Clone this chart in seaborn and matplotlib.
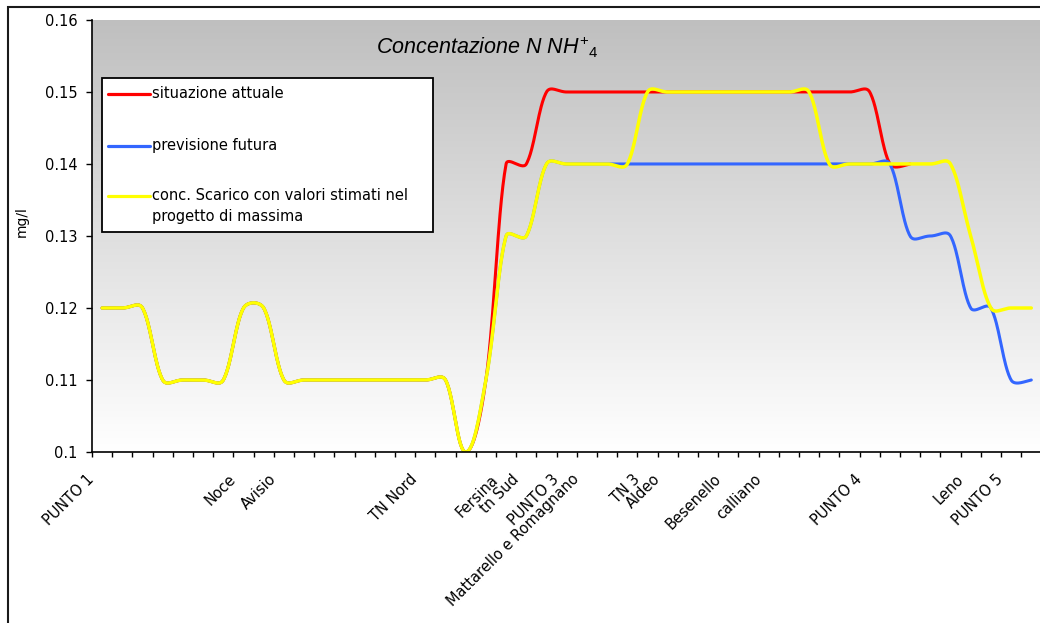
import numpy as np
import pandas as pd
import matplotlib
matplotlib.use("Agg")
import matplotlib.pyplot as plt
from matplotlib.transforms import ScaledTranslation
from matplotlib.patches import Rectangle
from matplotlib.lines import Line2D
import seaborn as sns

# ---- data -------------------------------------------------------------
n_points = 47
label_positions = {
    0: "PUNTO 1", 7: "Noce", 9: "Avisio", 16: "TN Nord", 20: "Fersina",
    21: "tn Sud", 23: "PUNTO 3", 24: "Mattarello e Romagnano", 27: "TN 3",
    28: "Aldeo", 31: "Besenello", 33: "calliano", 38: "PUNTO 4",
    43: "Leno", 45: "PUNTO 5",
}
categories = [label_positions.get(i, "") for i in range(n_points)]

nan = np.nan
situazione_attuale = [
    0.12, 0.12, 0.12, 0.11, 0.11, 0.11, 0.11, 0.12, 0.12, 0.11,
    0.11, 0.11, 0.11, 0.11, 0.11, 0.11, 0.11, 0.11, 0.10, 0.11,
    0.14, 0.14, 0.15, 0.15, 0.15, 0.15, 0.15, 0.15, 0.15, 0.15,
    0.15, 0.15, 0.15, 0.15, 0.15, 0.15, 0.15, 0.15, 0.15, 0.14,
    0.14, nan, nan, nan, nan, nan, nan,
]
previsione_futura = [
    0.12, 0.12, 0.12, 0.11, 0.11, 0.11, 0.11, 0.12, 0.12, 0.11,
    0.11, 0.11, 0.11, 0.11, 0.11, 0.11, 0.11, 0.11, 0.10, 0.11,
    0.13, 0.13, 0.14, 0.14, 0.14, 0.14, 0.14, 0.14, 0.14, 0.14,
    0.14, 0.14, 0.14, 0.14, 0.14, 0.14, 0.14, 0.14, 0.14, 0.14,
    0.13, 0.13, 0.13, 0.12, 0.12, 0.11, 0.11,
]
conc_scarico = [
    0.12, 0.12, 0.12, 0.11, 0.11, 0.11, 0.11, 0.12, 0.12, 0.11,
    0.11, 0.11, 0.11, 0.11, 0.11, 0.11, 0.11, 0.11, 0.10, 0.11,
    0.13, 0.13, 0.14, 0.14, 0.14, 0.14, 0.14, 0.15, 0.15, 0.15,
    0.15, 0.15, 0.15, 0.15, 0.15, 0.15, 0.14, 0.14, 0.14, 0.14,
    0.14, 0.14, 0.14, 0.13, 0.12, 0.12, 0.12,
]

series_names = [
    "situazione attuale",
    "previsione futura",
    "conc. Scarico con valori stimati nel\nprogetto di massima",
]
series_values = [situazione_attuale, previsione_futura, conc_scarico]
series_colors = ["#FF0000", "#3366FF", "#FFFF00"]

y_ticks = [0.10, 0.11, 0.12, 0.13, 0.14, 0.15, 0.16]
y_tick_labels = ["0.1", "0.11", "0.12", "0.13", "0.14", "0.15", "0.16"]

# on-screen size of one category step and of one mg/l unit (pixels)
PX_X, PX_Y = 20.2, 7200.0
HANDLE = 0.45      # handle length factor
MAX_REACH = 0.42   # handles never reach further than this share of a step


def smooth_curve(xs, ys, steps=30):
    """Smoothed line: cubic Bezier pieces whose handles follow the
    neighbouring points, scaled by the on-screen chord lengths."""
    pts = np.array([(x * PX_X, y * PX_Y) for x, y in zip(xs, ys)
                    if not np.isnan(y)], dtype=float)
    n = len(pts)
    chords = np.hypot(*np.diff(pts, axis=0).T)
    h_out = np.zeros_like(pts)
    h_in = np.zeros_like(pts)
    for i in range(n):
        if i == 0:
            h_out[i] = (pts[1] - pts[0]) / 6.0
        elif i == n - 1:
            h_in[i] = (pts[i] - pts[i - 1]) / 6.0
        else:
            tangent = pts[i + 1] - pts[i - 1]
            d0, d1 = chords[i - 1], chords[i]
            h_out[i] = tangent * d1 / (d0 + d1) * HANDLE
            h_in[i] = tangent * d0 / (d0 + d1) * HANDLE
            lim_out = MAX_REACH * (pts[i + 1, 0] - pts[i, 0])
            lim_in = MAX_REACH * (pts[i, 0] - pts[i - 1, 0])
            if h_out[i, 0] > lim_out:
                h_out[i] *= lim_out / h_out[i, 0]
            if h_in[i, 0] > lim_in:
                h_in[i] *= lim_in / h_in[i, 0]
    t = np.linspace(0.0, 1.0, steps)[:, None]
    out = []
    for i in range(n - 1):
        p1, p2 = pts[i], pts[i + 1]
        c1, c2 = p1 + h_out[i], p2 - h_in[i + 1]
        b = (1 - t) ** 3 * p1 + 3 * (1 - t) ** 2 * t * c1 \
            + 3 * (1 - t) * t ** 2 * c2 + t ** 3 * p2
        out.append(b)
    out = np.vstack(out)
    return out[:, 0] / PX_X, out[:, 1] / PX_Y


frames = []
x_idx = np.arange(n_points)
for name, vals in zip(series_names, series_values):
    sx, sy = smooth_curve(x_idx, vals)
    frames.append(pd.DataFrame({"x": sx, "mg/l": sy, "serie": name}))
df = pd.DataFrame(pd.concat(frames, ignore_index=True))

# ---- figure -----------------------------------------------------------
sns.set_theme(style="white")
plt.rcParams["font.family"] = ["DejaVu Sans"]
plt.rcParams["mathtext.fontset"] = "custom"
plt.rcParams["mathtext.it"] = "Liberation Sans:italic"
plt.rcParams["mathtext.rm"] = "Liberation Sans"

W, H = 1040, 623
fig = plt.figure(figsize=(W / 100, H / 100), dpi=100)
fig.patch.set_facecolor("white")

# plot area in pixel terms: left 92, top 20, bottom 452, 47 slots of ~20.2 px
ax = fig.add_axes([92 / W, (H - 452) / H, 949.4 / W, 432 / H])

# grey-to-white plot area fill
g = np.linspace(0.75, 1.0, 256)
grad = np.dstack([g, g, g]).reshape(256, 1, 3)
ax.imshow(grad, extent=[0, 1, 0, 1], transform=ax.transAxes,
          aspect="auto", origin="upper", zorder=0)

palette = dict(zip(series_names, series_colors))
line_widths = {series_names[0]: 2.2, series_names[1]: 2.2, series_names[2]: 2.5}
for name in series_names:
    sns.lineplot(data=df[df["serie"] == name], x="x", y="mg/l",
                 color=palette[name], sort=False, estimator=None,
                 lw=line_widths[name], legend=False, ax=ax, zorder=3)

ax.set_xlim(-0.5, n_points - 0.5)
ax.set_ylim(0.1, 0.16)
ax.set_xlabel("")
ax.set_ylabel("")

for side in ["top", "right"]:
    ax.spines[side].set_visible(False)
for side in ["left", "bottom"]:
    ax.spines[side].set_color("black")
    ax.spines[side].set_linewidth(1.2)
    ax.spines[side].set_zorder(4)

# y axis
ax.set_yticks(y_ticks)
ax.set_yticklabels(y_tick_labels, fontsize=10.5, color="black")
ax.tick_params(axis="y", direction="out", length=4.3, width=1, color="black",
               pad=6.0, left=True)

# x axis: marks between categories, names under the slots
ax.set_xticks(np.arange(-0.5, n_points, 1.0), minor=True)
ax.set_xticks(x_idx)
ax.set_xticklabels(categories, rotation=45, ha="right", va="center",
                   rotation_mode="anchor", fontsize=10.5, color="black")
ax.tick_params(axis="x", which="major", length=0, pad=18.0, bottom=True)
ax.tick_params(axis="x", which="minor", direction="out", length=3.6, width=1,
               color="black", bottom=True)
shift = ScaledTranslation(-10 / 100, 0, fig.dpi_scale_trans)
for lab in ax.get_xticklabels():
    lab.set_transform(lab.get_transform() + shift)

# outer chart frame
fig.patches.append(Rectangle((8 / W, -0.1), 1.2, (H - 7) / H + 0.1,
                             transform=fig.transFigure, fill=False,
                             edgecolor="#1a1a1a", lw=1.5, zorder=0))

# title
fig.text(487 / W, 1 - 47 / H, r"$\mathit{Concentazione\ N\ NH}^{+}{}_{4}$",
         ha="center", va="center", fontsize=15.5, color="black")

# axis title
fig.text(22 / W, 1 - 222 / H, "mg/l", rotation=90, ha="center", va="center",
         fontsize=10, color="black")

# legend box
fig.add_artist(Rectangle((101.7 / W, 1 - 231.7 / H), 331.3 / W, 153.4 / H,
                         transform=fig.transFigure, facecolor="white",
                         edgecolor="black", lw=1.3, zorder=5))
legend_rows = [94, 145.7, 195.7]
for name, color, yp in zip(series_names, series_colors, legend_rows):
    fig.add_artist(Line2D([108 / W, 150 / W], [1 - yp / H, 1 - yp / H],
                          transform=fig.transFigure, color=color, lw=2.3,
                          zorder=6))
    multi = "\n" in name
    fig.text(152 / W, 1 - (yp - 8) / H if multi else 1 - yp / H, name,
             ha="left", va="top" if multi else "center",
             fontsize=10.5, color="black", zorder=6, linespacing=1.5)

fig.savefig("out.png", dpi=100)
